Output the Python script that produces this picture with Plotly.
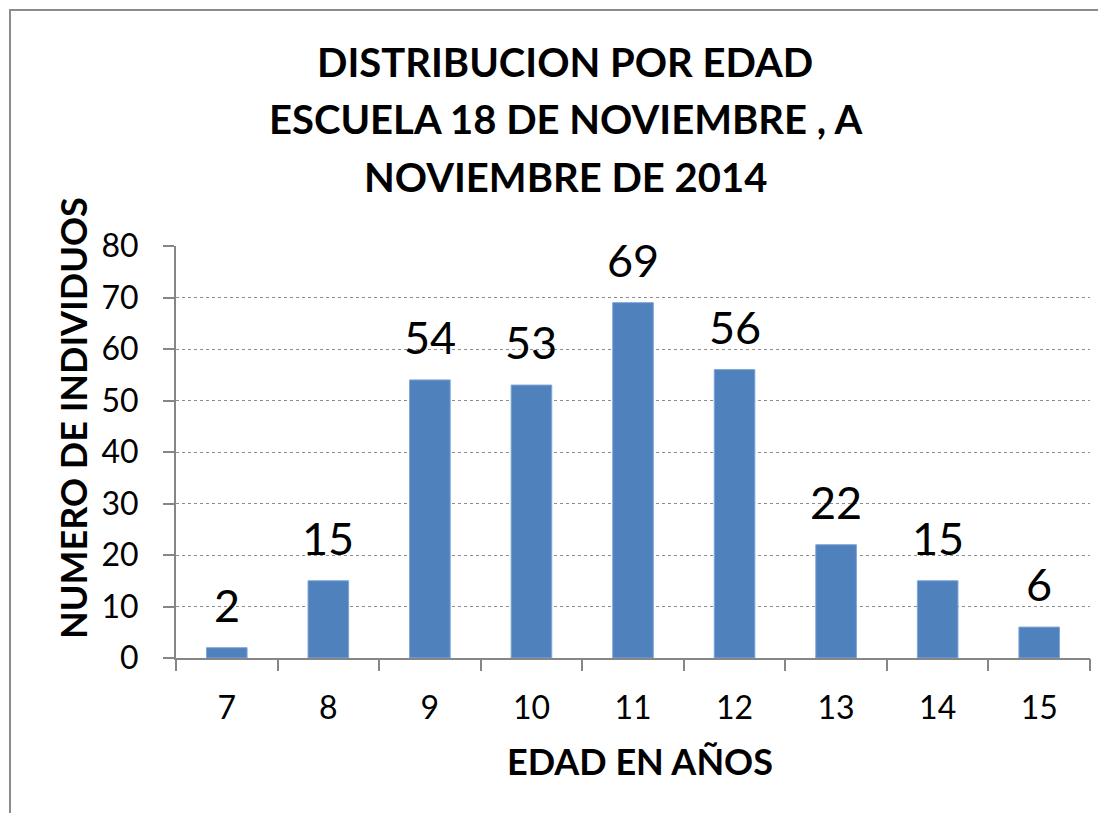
import plotly.graph_objects as go

edades = ["7", "8", "9", "10", "11", "12", "13", "14", "15"]
individuos = [2, 15, 54, 53, 69, 56, 22, 15, 6]
y_ticks = [0, 10, 20, 30, 40, 50, 60, 70, 80]

titulo = ["DISTRIBUCION POR EDAD", "ESCUELA 18 DE NOVIEMBRE , A", "NOVIEMBRE DE 2014"]
x_titulo = "EDAD EN AÑOS"
y_titulo = "NUMERO DE INDIVIDUOS"

FONT = "Lato, Carlito, Calibri, sans-serif"
AXIS = "#868686"

OFF = 8  # page body margin
FW, FH = 1106 - OFF, 813 - OFF
# plot area in reference-image pixels
L, R, T, B = 176, 1090, 246, 658
W, H = R - L, B - T


def px(x):
    return (x - L) / W


def py(y):
    return (B - y) / H


fig = go.Figure()
pos = list(range(len(edades)))
fig.add_trace(go.Bar(
    x=pos, y=individuos,
    marker=dict(color="#4F81BD", line=dict(color="#7EA6D8", width=1)),
    width=0.4,
))

for i, v in zip(pos, individuos):
    fig.add_annotation(x=i, y=v, text=str(v), showarrow=False,
                       yanchor="bottom", yshift=14,
                       font=dict(family=FONT, size=45, color="black"))

for line, yc in zip(titulo, [62, 119, 177]):
    fig.add_annotation(xref="paper", yref="paper", x=px(565), y=py(yc),
                       text=line, showarrow=False, xanchor="center", yanchor="middle",
                       font=dict(family=FONT, size=40, color="black", weight="bold"))

fig.add_annotation(xref="paper", yref="paper", x=px(640), y=py(761),
                   text=x_titulo, showarrow=False, xanchor="center", yanchor="middle",
                   font=dict(family=FONT, size=36, color="black", weight="bold"))
fig.add_annotation(xref="paper", yref="paper", x=px(73), y=py(418),
                   text=y_titulo, showarrow=False, xanchor="center", yanchor="middle",
                   textangle=-90,
                   font=dict(family=FONT, size=36, color="black", weight="bold"))

fig.update_layout(
    width=FW, height=FH,
    margin=dict(l=L - OFF, r=FW - (R - OFF), t=T - OFF, b=FH - (B - OFF)),
    paper_bgcolor="white", plot_bgcolor="white",
    showlegend=False,
    font=dict(family=FONT, color="black"),
)
fig.update_xaxes(
    range=[-0.5, len(edades) - 0.5],
    tickvals=pos, ticktext=edades,
    showline=True, linecolor=AXIS, linewidth=2,
    ticks="", tickfont=dict(family=FONT, size=32, color="black"),
    ticklabelstandoff=21,
    showgrid=False, zeroline=False, automargin=False,
)
# boundary tick marks on the category axis
fig.update_layout(xaxis2=dict(
    overlaying="x", range=[-0.5, len(edades) - 0.5],
    tickvals=[p - 0.5 for p in pos] + [len(edades) - 0.5],
    ticks="outside", ticklen=12, tickcolor=AXIS, tickwidth=2,
    showticklabels=False, showgrid=False, zeroline=False, showline=False,
    side="bottom", automargin=False,
))
fig.add_trace(go.Scatter(x=[], y=[], xaxis="x2", showlegend=False))
fig.update_yaxes(
    range=[0, 80], tickvals=y_ticks, showline=True, linecolor=AXIS, linewidth=2,
    ticks="outside", ticklen=11, tickcolor=AXIS, tickwidth=2,
    tickfont=dict(family=FONT, size=32, color="black"),
    ticklabelstandoff=18,
    showgrid=True, gridcolor="#8c8c8c", griddash="dot", gridwidth=1,
    zeroline=False, automargin=False,
)
fig.add_shape(type="rect", xref="paper", yref="paper",
              x0=px(10), x1=px(1200), y0=py(900), y1=py(10),
              line=dict(color="#8c8c8c", width=2), layer="below")

fig.write_html("out.html")
